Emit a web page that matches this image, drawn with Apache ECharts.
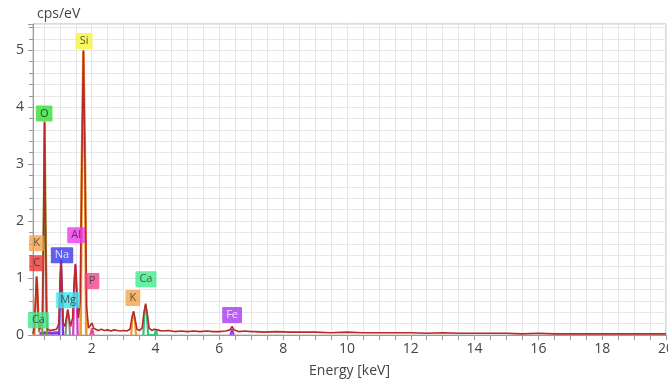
<!DOCTYPE html>
<html>
<head>
<meta charset="utf-8">
<script src="https://cdn.jsdelivr.net/npm/echarts@6/dist/echarts.min.js"></script>
<style>
html,body{margin:0;padding:0;background:#fff;}
#chart{width:668px;height:381px;}
</style>
</head>
<body>
<div id="chart"></div>
<script>
// ---- Data ----
const sumEnergy = [0.16,0.20,0.24,0.27,0.28,0.30,0.33,0.37,0.42,0.46,0.49,0.52,0.55,0.58,0.62,0.70,0.80,0.90,0.97,1.01,1.04,1.07,1.11,1.16,1.21,1.25,1.29,1.34,1.40,1.45,1.49,1.53,1.58,1.64,1.69,1.74,1.79,1.84,1.90,1.96,2.01,2.06,2.12,2.20,2.30,2.40,2.50,2.60,2.70,2.80,2.90,3.00,3.10,3.20,3.26,3.31,3.36,3.42,3.50,3.58,3.64,3.69,3.74,3.80,3.88,3.96,4.01,4.06,4.20,4.40,4.60,4.80,5.00,5.20,5.40,5.60,5.80,6.00,6.20,6.33,6.40,6.46,6.60,6.80,7.00,7.06,7.12,7.40,7.80,8.20,8.60,9.00,9.50,10.0,10.5,11.0,11.5,12.0,12.5,13.0,13.5,14.0,14.5,15.0,15.5,16.0,16.5,17.0,17.5,18.0,18.5,19.0,19.5,20.0];
const sumCps    = [0.02,0.15,0.60,1.02,1.05,0.80,0.25,0.09,0.10,0.30,1.80,3.75,2.00,0.40,0.10,0.08,0.09,0.10,0.20,0.90,1.32,0.80,0.20,0.15,0.30,0.45,0.30,0.15,0.30,0.90,1.25,0.80,0.30,0.60,3.00,5.00,3.00,0.50,0.12,0.12,0.21,0.12,0.09,0.08,0.10,0.08,0.09,0.07,0.09,0.08,0.07,0.08,0.07,0.10,0.30,0.42,0.28,0.10,0.08,0.12,0.40,0.55,0.38,0.12,0.08,0.10,0.13,0.09,0.07,0.08,0.06,0.07,0.06,0.07,0.06,0.07,0.06,0.06,0.07,0.09,0.15,0.09,0.06,0.07,0.06,0.08,0.06,0.05,0.06,0.05,0.05,0.05,0.04,0.05,0.04,0.04,0.04,0.04,0.03,0.04,0.03,0.03,0.03,0.03,0.02,0.03,0.02,0.02,0.02,0.02,0.02,0.02,0.02,0.02];

const cPeakE  = [0.20,0.24,0.28,0.31,0.35];   const cPeakY  = [0.00,0.55,1.03,0.60,0.05];
const oPeakE  = [0.45,0.49,0.525,0.555,0.60]; const oPeakY  = [0.00,1.75,3.73,1.90,0.00];
const naPeakE = [0.98,1.01,1.04,1.07,1.10];   const naPeakY = [0.00,0.85,1.30,0.78,0.00];
const mgPeakE = [1.18,1.21,1.25,1.29,1.32];   const mgPeakY = [0.00,0.28,0.43,0.28,0.00];
const alPeakE = [1.42,1.45,1.49,1.53,1.56];   const alPeakY = [0.00,0.85,1.23,0.78,0.00];
const siPeakE = [1.65,1.69,1.74,1.79,1.83];   const siPeakY = [0.00,2.95,4.98,2.95,0.00];
const pPeakE  = [1.96,2.01,2.06];             const pPeakY  = [0.00,0.12,0.00];
const kPeakE  = [3.24,3.27,3.31,3.35,3.39];   const kPeakY  = [0.00,0.28,0.40,0.27,0.00];
const caPeakE = [3.62,3.65,3.69,3.73,3.77,3.98,4.01,4.05]; const caPeakY = [0.00,0.38,0.53,0.36,0.00,0.00,0.10,0.00];
const fePeakE = [6.35,6.40,6.45];             const fePeakY = [0.00,0.10,0.00];
const lowBaseE = [0.36,0.45,0.60,0.75,0.90,1.00]; const lowBaseY = [0.03,0.03,0.04,0.03,0.04,0.03];

const tagNames = ['Si','O','K','C','Ca','Na','Mg','Al','P','K','Ca','Fe'];
const tagE     = [1.76,0.51,0.27,0.28,0.33,1.07,1.26,1.51,2.01,3.29,3.70,6.40];
const tagY     = [5.16,3.89,1.61,1.26,0.26,1.40,0.61,1.75,0.95,0.65,0.98,0.35];
const tagBg    = ['#f6f43a','#34e034','#f5a24a','#ec3434','#40ec8c','#3838ea','#38e6ee','#ee38ec','#f2428c','#f5a24a','#40ec8c','#a63af4'];
const tagFg    = ['#333','#222','#333','#333','#333','#fff','#333','#333','#333','#333','#333','#fff'];

const xLabelValues = [2,4,6,8,10,12,14,16,18,20];
const xTickValues = [0.5,1,1.5,2,2.5,3,3.5,4,4.5,5,5.5,6,6.5,7,7.5,8,8.5,9,9.5,10,10.5,11,11.5,12,12.5,13,13.5,14,14.5,15,15.5,16,16.5,17,17.5,18,18.5,19,19.5,20];

function pairs(xs, ys){ return xs.map((x,i)=>[x, ys[i]]); }
function peak(name, xs, ys, color, w){
  return {name, type:'line', data:pairs(xs,ys), symbol:'none', smooth:false,
    lineStyle:{color, width:w||2.2}, z:2, silent:true};
}

const chart = echarts.init(document.getElementById('chart'));
const font = '"Open Sans", "Noto Sans", sans-serif';
chart.setOption({
  animation:false,
  backgroundColor:'#fff',
  grid:{left:33, right:2, top:24, bottom:46, containLabel:false, outerBoundsMode:'none',
    show:true, borderColor:'#b8b8b8', borderWidth:1},
  xAxis:{
    type:'value', min:0.16, max:20,
    name:'Energy [keV]', nameLocation:'middle', nameGap:29,
    nameTextStyle:{color:'#444', fontSize:14, fontFamily:font},
    axisLine:{lineStyle:{color:'#999'}},
    axisTick:{show:true, inside:false, length:5, lineStyle:{color:'#999'}, customValues:xTickValues},
    axisLabel:{color:'#444', fontSize:14, margin:7, fontFamily:font, customValues:xLabelValues, hideOverlap:false},
    splitLine:{show:true, lineStyle:{color:'#e6e6e6', width:1}, customValues:xTickValues}
  },
  yAxis:{
    type:'value', min:0, max:5.46, interval:1,
    name:'cps/eV', nameLocation:'end', nameGap:3,
    nameTextStyle:{color:'#444', fontSize:14, fontFamily:font, align:'left', padding:[0,0,0,4]},
    axisLine:{show:true, lineStyle:{color:'#999'}},
    axisTick:{show:true, length:5, lineStyle:{color:'#999'}},
    minorTick:{show:true, splitNumber:5, length:4, lineStyle:{color:'#999'}},
    axisLabel:{color:'#444', fontSize:14, margin:9, fontFamily:font, showMaxLabel:false},
    splitLine:{show:true, lineStyle:{color:'#e6e6e6'}},
    minorSplitLine:{show:true, lineStyle:{color:'#e6e6e6'}}
  },
  series:[
    peak('lowbase', lowBaseE, lowBaseY, '#7a3ee0', 3),
    peak('C', cPeakE, cPeakY, '#e8703a'),
    peak('O', oPeakE, oPeakY, '#7f9a2e'),
    peak('Na', naPeakE, naPeakY, '#7a3ad8'),
    peak('Mg', mgPeakE, mgPeakY, '#8e8e8e'),
    peak('Al', alPeakE, alPeakY, '#d838c8'),
    peak('Si', siPeakE, siPeakY, '#ec9a2c', 2.6),
    peak('P', pPeakE, pPeakY, '#e84890'),
    peak('K', kPeakE, kPeakY, '#ec9a3a'),
    peak('Ca', caPeakE, caPeakY, '#2ec87a'),
    peak('Fe', fePeakE, fePeakY, '#9a3ae8'),
    {name:'Sum', type:'line', data:pairs(sumEnergy,sumCps), symbol:'none', smooth:false,
      lineStyle:{color:'#b82a26', width:1.6}, z:3, silent:true},
    {name:'tags', type:'scatter', symbolSize:0, z:5, silent:true,
      data: tagNames.map((n,i)=>({value:[tagE[i], tagY[i]],
        label:{show:true, position:'inside', formatter:n, backgroundColor:tagBg[i], color:tagFg[i],
          padding:[3,4,2,4], fontSize:11, fontFamily:font, borderRadius:1}}))
    }
  ]
});
</script>
</body>
</html>
